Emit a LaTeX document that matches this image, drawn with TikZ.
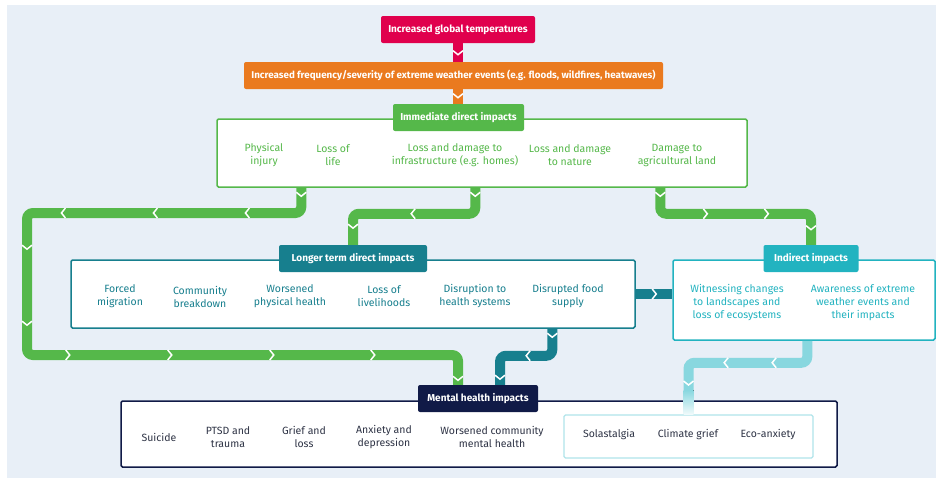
\documentclass[tikz,border=0pt]{standalone}
\usepackage{fontspec}
\setmainfont{Fira Sans}
\usetikzlibrary{decorations.markings}

\definecolor{bgblue}{HTML}{E8EFF7}
\definecolor{tempred}{HTML}{E0004D}
\definecolor{wxorange}{HTML}{EA7A1F}
\definecolor{immgreen}{HTML}{55B84A}
\definecolor{longteal}{HTML}{177F8E}
\definecolor{indcyan}{HTML}{22B3C0}
\definecolor{lightpipe}{HTML}{88D7DF}
\definecolor{mhnavy}{HTML}{101A47}
\definecolor{ecoline}{HTML}{B0E4EA}
\definecolor{itemgray}{HTML}{2E3345}

\tikzset{
  chevron/.style={postaction={decorate,decoration={markings,
      mark=at position #1 with {\draw[white,line width=1.5pt,sharp corners] (-3.5pt,-5pt) -- (0.5pt,0pt) -- (-3.5pt,5pt);}}}}
}

\begin{document}
\begin{tikzpicture}[x=1pt,y=-1pt,
  tag/.style={text=white, font=\bfseries\fontsize{10}{12}\selectfont, minimum height=27pt, inner xsep=2pt, rounded corners=2pt},
  panel/.style={draw, line width=1.5pt, fill=white, rounded corners=1.5pt},
  item/.style={align=center, font=\fontsize{10.5}{13}\selectfont},
  pipe/.style={line width=10pt, rounded corners=6pt}
]
\useasboundingbox (0,0) rectangle (936,479);
\fill[bgblue] (7,5) rectangle (936,478);

% panels
\node[panel, draw=immgreen, minimum width=530pt, minimum height=68pt] (imm) at (482,153) {};
\node[panel, draw=longteal, minimum width=564pt, minimum height=68pt] (long) at (353,294) {};
\node[panel, draw=indcyan, minimum width=262pt, minimum height=80pt] (ind) at (804,300) {};
\node[panel, draw=mhnavy, minimum width=716pt, minimum height=66pt] (mh) at (479,434) {};
\node[panel, draw=ecoline, line width=1.2pt, minimum width=249pt, minimum height=43pt] (eco) at (688.5,436.5) {};

% tags
\node[tag, fill=tempred, minimum width=154pt] (temp) at (458,29.5) {Increased global temperatures};
\node[tag, fill=wxorange, minimum width=419pt, font=\bfseries\fontsize{9.8}{12}\selectfont] (wx) at (453.5,75.5) {Increased frequency/severity of extreme weather events (e.g. floods, wildfires, heatwaves)};
\node[tag, fill=immgreen, minimum width=131pt] (immtag) at (458.5,117.5) {Immediate direct impacts};
\node[tag, fill=longteal, minimum width=148pt] (longtag) at (353,258.5) {Longer term direct impacts};
\node[tag, fill=indcyan, minimum width=95pt] (indtag) at (811,258.5) {Indirect impacts};
\node[tag, fill=mhnavy, minimum width=120pt] (mhtag) at (478,398.5) {Mental health impacts};

% immediate direct impacts
\node[item, text=immgreen] (i1) at (264,155) {Physical\\injury};
\node[item, text=immgreen] (i2) at (333,155) {Loss of\\life};
\node[item, text=immgreen] (i3) at (455,155) {Loss and damage to\\infrastructure (e.g. homes)};
\node[item, text=immgreen] (i4) at (570,155) {Loss and damage\\to nature};
\node[item, text=immgreen] (i5) at (677,155) {Damage to\\agricultural land};

% longer term direct impacts
\node[item, text=longteal] (l1) at (120,296.5) {Forced\\migration};
\node[item, text=longteal] (l2) at (200,296.5) {Community\\breakdown};
\node[item, text=longteal] (l3) at (290,296.5) {Worsened\\physical health};
\node[item, text=longteal] (l4) at (384,296.5) {Loss of\\livelihoods};
\node[item, text=longteal] (l5) at (475,296.5) {Disruption to\\health systems};
\node[item, text=longteal] (l6) at (568,296.5) {Disrupted food\\supply};

% indirect impacts
\node[item, text=indcyan] (n1) at (737,303) {Witnessing changes\\to landscapes and\\loss of ecosystems};
\node[item, text=indcyan] (n2) at (863,303) {Awareness of extreme\\weather events and\\their impacts};

% mental health impacts
\node[item, text=itemgray] (m1) at (159,437) {Suicide};
\node[item, text=itemgray] (m2) at (228,437) {PTSD and\\trauma};
\node[item, text=itemgray] (m3) at (304,437) {Grief and\\loss};
\node[item, text=itemgray] (m4) at (384,437) {Anxiety and\\depression};
\node[item, text=itemgray] (m5) at (492,437) {Worsened community\\mental health};
\node[item, text=itemgray] (e1) at (609,435) {Solastalgia};
\node[item, text=itemgray] (e2) at (688,435) {Climate grief};
\node[item, text=itemgray] (e3) at (768,435) {Eco-anxiety};

% top chain
\draw[pipe, draw=tempred, chevron=11pt] (temp.south) -- (temp.south |- wx.north);
\draw[pipe, draw=wxorange, chevron=8pt] (temp.south |- wx.south) -- (temp.south |- immtag.north);

% green pipes
\draw[pipe, draw=immgreen, chevron/.list={8pt,78pt,170pt,262pt,330pt,406pt,476pt,578pt,680pt,781pt,887pt}]
  ([xshift=85pt]imm.south west) |- (27,213) -- (27,355) -| ([xshift=-20pt]mhtag.north);
\draw[pipe, draw=immgreen, chevron/.list={8pt,87pt,157pt}]
  ([xshift=259pt]imm.south west) -- ++(0,26) -| (longtag.north);
\draw[pipe, draw=immgreen, chevron/.list={8pt,70pt,131pt,187pt}]
  ([xshift=444pt]imm.south west) -- ++(0,26) -| (indtag.north);

% teal pipes
\draw[pipe, draw=longteal, chevron=20pt] (long.east) -- (ind.west |- long.east);
\draw[pipe, draw=longteal, chevron/.list={8pt,50pt,97pt}]
  ([xshift=482pt]long.south west) -- ++(0,27) -| ([xshift=22pt]mhtag.north);

% light pipe into eco box
\draw[pipe, draw=lightpipe, chevron/.list={54pt,102pt}]
  ([xshift=135pt]ind.south west) -- ++(0,22) -| (eco.north);
\fill[top color=lightpipe, bottom color=lightpipe!12] ([xshift=-5pt]eco.north |- 0,390) rectangle ([xshift=5pt]eco.north);
\draw[white, line width=1.5pt] (683.5,381) -- (688.5,385) -- (693.5,381);

\end{tikzpicture}
\end{document}
